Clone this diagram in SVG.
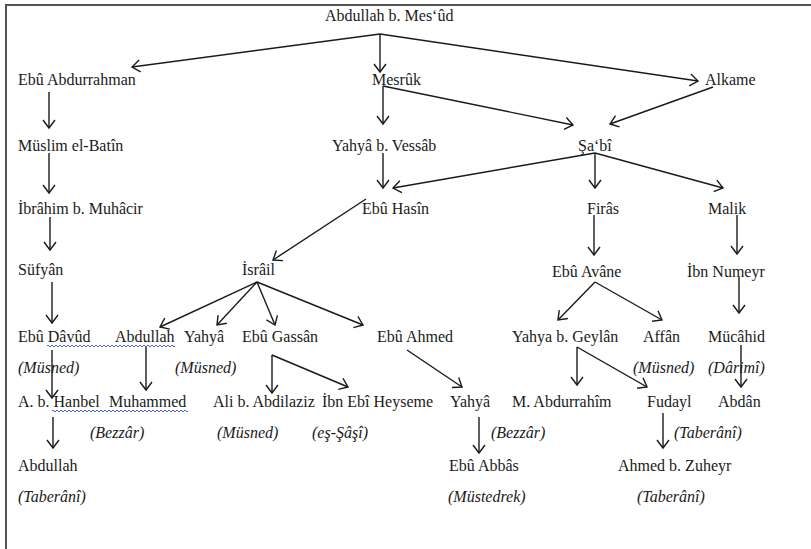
<svg xmlns="http://www.w3.org/2000/svg" width="811" height="549" viewBox="0 0 811 549">
<defs>
<marker id="ah" markerUnits="userSpaceOnUse" markerWidth="12" markerHeight="14" refX="9" refY="7" orient="auto" overflow="visible">
<path d="M1,1 L9,7 L1,13" fill="none" stroke="#1a1a1a" stroke-width="1.4"/>
</marker>
<style>
text{font-family:"Liberation Serif","Times New Roman",serif;font-size:16px;fill:#1a1a1a}
.i{font-style:italic}
.c line{stroke:#1a1a1a;stroke-width:1.4;marker-end:url(#ah)}
.sq{fill:none;stroke:#4b5fd6;stroke-width:1}
</style>
</defs>
<rect width="811" height="549" fill="#fff"/>
<path d="M6,549 V5 H811" fill="none" stroke="#555" stroke-width="2"/>

<g id="n-abdullah-mesud"><text x="325" y="21">Abdullah b. Mes‘ûd</text></g>
<g id="n-ebu-abdurrahman"><text x="18" y="85">Ebû Abdurrahman</text></g>
<g id="n-mesruk"><text x="372" y="85">Mesrûk</text></g>
<g id="n-alkame"><text x="705" y="85">Alkame</text></g>
<g id="n-muslim"><text x="18" y="151">Müslim el-Batîn</text></g>
<g id="n-yahya-vessab"><text x="332" y="151">Yahyâ b. Vessâb</text></g>
<g id="n-sabi"><text x="578" y="151">Şa‘bî</text></g>
<g id="n-ibrahim"><text x="18" y="214">İbrâhim b. Muhâcir</text></g>
<g id="n-ebu-hasin"><text x="362" y="214">Ebû Hasîn</text></g>
<g id="n-firas"><text x="587" y="214">Firâs</text></g>
<g id="n-malik"><text x="708" y="214">Malik</text></g>
<g id="n-sufyan"><text x="18" y="275">Süfyân</text></g>
<g id="n-israil"><text x="242" y="275">İsrâil</text></g>
<g id="n-ebu-avane"><text x="552" y="277">Ebû Avâne</text></g>
<g id="n-ibn-numeyr"><text x="687" y="277">İbn Numeyr</text></g>

<g id="n-ebu-davud"><text x="18" y="342">Ebû Dâvûd</text><text class="i" x="18" y="373">(Müsned)</text></g>
<g id="n-abdullah2"><text x="115" y="342">Abdullah</text></g>
<g id="n-yahya2"><text x="184" y="342">Yahyâ</text><text class="i" x="175" y="373">(Müsned)</text></g>
<g id="n-ebu-gassan"><text x="242" y="342">Ebû Gassân</text></g>
<g id="n-ebu-ahmed"><text x="377" y="342">Ebû Ahmed</text></g>
<g id="n-yahya-geylan"><text x="512" y="342">Yahya b. Geylân</text></g>
<g id="n-affan"><text x="643" y="342">Affân</text><text class="i" x="633" y="373">(Müsned)</text></g>
<g id="n-mucahid"><text x="708" y="342">Mücâhid</text><text class="i" x="708" y="373">(Dârimî)</text></g>

<g id="n-hanbel"><text x="18" y="407">A. b. Hanbel</text></g>
<g id="n-muhammed"><text x="109" y="407">Muhammed</text><text class="i" x="90" y="438">(Bezzâr)</text></g>
<g id="n-ali"><text x="213" y="407">Ali b. Abdilaziz</text><text class="i" x="217" y="438">(Müsned)</text></g>
<g id="n-heyseme"><text x="322" y="407">İbn Ebî Heyseme</text><text class="i" x="312" y="438">(eş-Şâşî)</text></g>
<g id="n-yahya3"><text x="450" y="407">Yahyâ</text><text class="i" x="491" y="438">(Bezzâr)</text></g>
<g id="n-abdurrahim"><text x="512" y="407">M. Abdurrahîm</text></g>
<g id="n-fudayl"><text x="647" y="407">Fudayl</text><text class="i" x="674" y="438">(Taberânî)</text></g>
<g id="n-abdan"><text x="718" y="407">Abdân</text></g>

<g id="n-abdullah3"><text x="18" y="471">Abdullah</text><text class="i" x="18" y="502">(Taberânî)</text></g>
<g id="n-ebu-abbas"><text x="449" y="471">Ebû Abbâs</text><text class="i" x="448" y="502">(Müstedrek)</text></g>
<g id="n-ahmed-zuheyr"><text x="618" y="471">Ahmed b. Zuheyr</text><text class="i" x="637" y="502">(Taberânî)</text></g>

<g id="squiggles">
<path class="sq" d="M47,346 q1,-2 2,0 t2,0 t2,0 t2,0 t2,0 t2,0 t2,0 t2,0 t2,0 t2,0 t2,0 t2,0 t2,0 t2,0 t2,0 t2,0 t2,0 t2,0 t2,0 t2,0 t2,0 t2,0 t2,0 t2,0 t2,0 t2,0 t2,0 t2,0 t2,0 t2,0 t2,0 t2,0 t2,0 t2,0 t2,0 t2,0 t2,0 t2,0 t2,0 t2,0 t2,0 t2,0 t2,0 t2,0 t2,0 t2,0 t2,0 t2,0 t2,0 t2,0 t2,0 t2,0 t2,0 t2,0 t2,0 t2,0 t2,0 t2,0 t2,0 t2,0 t2,0 t2,0 t2,0 t2,0"/>
<path class="sq" d="M52,411 q1,-2 2,0 t2,0 t2,0 t2,0 t2,0 t2,0 t2,0 t2,0 t2,0 t2,0 t2,0 t2,0 t2,0 t2,0 t2,0 t2,0 t2,0 t2,0 t2,0 t2,0 t2,0 t2,0 t2,0 t2,0 t2,0 t2,0 t2,0 t2,0 t2,0 t2,0 t2,0 t2,0 t2,0 t2,0 t2,0 t2,0 t2,0 t2,0 t2,0 t2,0 t2,0 t2,0 t2,0 t2,0 t2,0 t2,0 t2,0 t2,0 t2,0 t2,0 t2,0 t2,0 t2,0 t2,0 t2,0 t2,0 t2,0 t2,0 t2,0 t2,0 t2,0 t2,0 t2,0 t2,0 t2,0 t2,0 t2,0 t2,0"/>
</g>

<g id="connectors" class="c">
<line x1="380" y1="34" x2="132" y2="67"/>
<line x1="380" y1="34" x2="380" y2="72"/>
<line x1="380" y1="34" x2="698" y2="81"/>
<line x1="49" y1="92" x2="49" y2="128"/>
<line x1="383" y1="86" x2="383" y2="124"/>
<line x1="383" y1="86" x2="573" y2="125"/>
<line x1="713" y1="87" x2="610" y2="124"/>
<line x1="49" y1="153" x2="49" y2="193"/>
<line x1="383" y1="153" x2="383" y2="188"/>
<line x1="595" y1="153" x2="393" y2="188"/>
<line x1="595" y1="153" x2="595" y2="188"/>
<line x1="595" y1="153" x2="723" y2="188"/>
<line x1="50" y1="217" x2="50" y2="250"/>
<line x1="366" y1="199" x2="273" y2="260"/>
<line x1="594" y1="215" x2="594" y2="255"/>
<line x1="737" y1="215" x2="737" y2="254"/>
<line x1="52" y1="282" x2="52" y2="323"/>
<line x1="257" y1="282" x2="160" y2="327"/>
<line x1="257" y1="282" x2="217" y2="325"/>
<line x1="257" y1="282" x2="275" y2="325"/>
<line x1="257" y1="282" x2="363" y2="325"/>
<line x1="595" y1="282" x2="558" y2="320"/>
<line x1="595" y1="282" x2="662" y2="320"/>
<line x1="739" y1="277" x2="739" y2="313"/>
<line x1="52" y1="350" x2="52" y2="398"/>
<line x1="146" y1="347" x2="146" y2="390"/>
<line x1="272" y1="355" x2="272" y2="393"/>
<line x1="272" y1="355" x2="348" y2="387"/>
<line x1="407" y1="350" x2="462" y2="387"/>
<line x1="577" y1="347" x2="577" y2="385"/>
<line x1="577" y1="347" x2="647" y2="387"/>
<line x1="741" y1="345" x2="741" y2="387"/>
<line x1="53" y1="417" x2="53" y2="448"/>
<line x1="479" y1="417" x2="479" y2="453"/>
<line x1="663" y1="413" x2="663" y2="448"/>
</g>
</svg>
